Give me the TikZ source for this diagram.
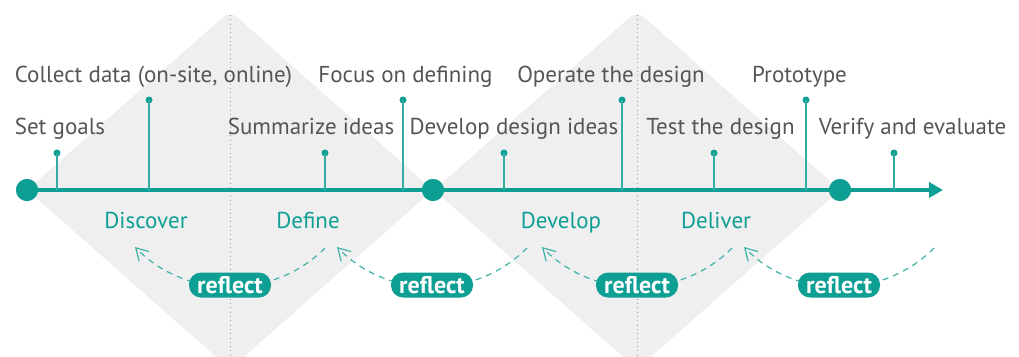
\documentclass[tikz,border=0pt]{standalone}
\usepackage{fontspec}
\setmainfont{PT Sans}
\usetikzlibrary{arrows.meta}
\definecolor{teal1}{HTML}{0E9F94}
\definecolor{tealL}{HTML}{3FB3AA}
\definecolor{txtgray}{HTML}{555555}
\definecolor{diagray}{HTML}{EFEFEF}
\definecolor{dotgray}{HTML}{9A9A9A}
\tikzset{
  diamondfill/.style={fill=diagray, draw=none, rounded corners=9pt},
  divider/.style={draw=dotgray, line width=1pt, dash pattern=on 1pt off 3.3pt},
  mainline/.style={draw=teal1, line width=3.6pt, -{Triangle[length=14pt,width=15pt]}},
  bigdot/.style={circle, fill=teal1, minimum size=22pt, inner sep=0pt},
  smalldot/.style={circle, fill=teal1, minimum size=7pt, inner sep=0pt},
  tickline/.style={draw=teal1!85, line width=1.6pt},
  steplabel/.style={text=txtgray, font=\fontsize{23}{27}\selectfont, inner sep=0pt, anchor=base},
  phaselabel/.style={text=teal1, font=\fontsize{23}{27}\selectfont, inner sep=0pt, anchor=base},
  pill/.style={fill=teal1, text=white, font=\bfseries\fontsize{24}{28}\selectfont, rounded corners=12pt, minimum width=82pt, minimum height=25pt, inner sep=0pt},
  reflectarc/.style={draw=tealL, line width=1.2pt, dash pattern=on 6pt off 5pt, -{Straight Barb[length=12pt,width=14pt,line width=1.2pt]}},
}
\begin{document}
\begin{tikzpicture}[x=1pt,y=-1pt]
\useasboundingbox (0,0) rectangle (1019,356);
% diamonds
\begin{scope}
\clip (0,0) rectangle (1019,356);
\fill[diamondfill] (27,190) -- (230,11) -- (433,190) -- (230,369) -- cycle;
\fill[diamondfill] (434,190) -- (637,11) -- (840,190) -- (637,369) -- cycle;
\end{scope}
\draw[divider] (230,15) -- (230,356);
\draw[divider] (637,15) -- (637,356);
% main timeline
\node[bigdot] (c1) at (27,190) {};
\node[bigdot] (c2) at (433,190) {};
\node[bigdot] (c3) at (840,190) {};
\coordinate (tip) at (943,190);
\draw[mainline] (c1.center) -- (tip);
\node[bigdot] at (c2) {};
\node[bigdot] at (c3) {};
\node[bigdot] at (c1) {};
% ticks
\foreach \n/\x/\y in {t1/57/153, t2/149/100, t3/325/153, t4/403/100, t5/504/153, t6/622/100, t7/714/153, t8/806/100, t9/894/153}{
  \node[smalldot] (\n) at (\x,\y) {};
  \coordinate (\n b) at (\x,190);
  \draw[tickline] (\n.center) -- (\n b);
}
% step labels
\node[steplabel] (l1) at (60,134.5) {Set goals};
\node[steplabel] (l2) at (153.5,82) {Collect data (on-site, online)};
\node[steplabel] (l3) at (311,134.5) {Summarize ideas};
\node[steplabel] (l4) at (405.5,82) {Focus on defining};
\node[steplabel] (l5) at (514,134.5) {Develop design ideas};
\node[steplabel] (l6) at (611,82) {Operate the design};
\node[steplabel] (l7) at (720.5,134.5) {Test the design};
\node[steplabel] (l8) at (799.5,82) {Prototype};
\node[steplabel] (l9) at (912.5,134.5) {Verify and evaluate};
% phases
\node[phaselabel] (p1) at (146,228) {Discover};
\node[phaselabel] (p2) at (308,228) {Define};
\node[phaselabel] (p3) at (561,228) {Develop};
\node[phaselabel] (p4) at (716,228) {Deliver};
% reflect arcs and pills
\foreach \n/\x in {r1/230, r2/432, r3/637, r4/839}{
  \coordinate (\n R) at (\x+95,248);
  \coordinate (\n L) at (\x-95,247);
  \draw[reflectarc] (\n R) .. controls (\x+43.7,300) and (\x-43.7,300) .. (\n L);
  \node[pill] (\n) at (\x,285) {reflect};
}
\end{tikzpicture}
\end{document}
